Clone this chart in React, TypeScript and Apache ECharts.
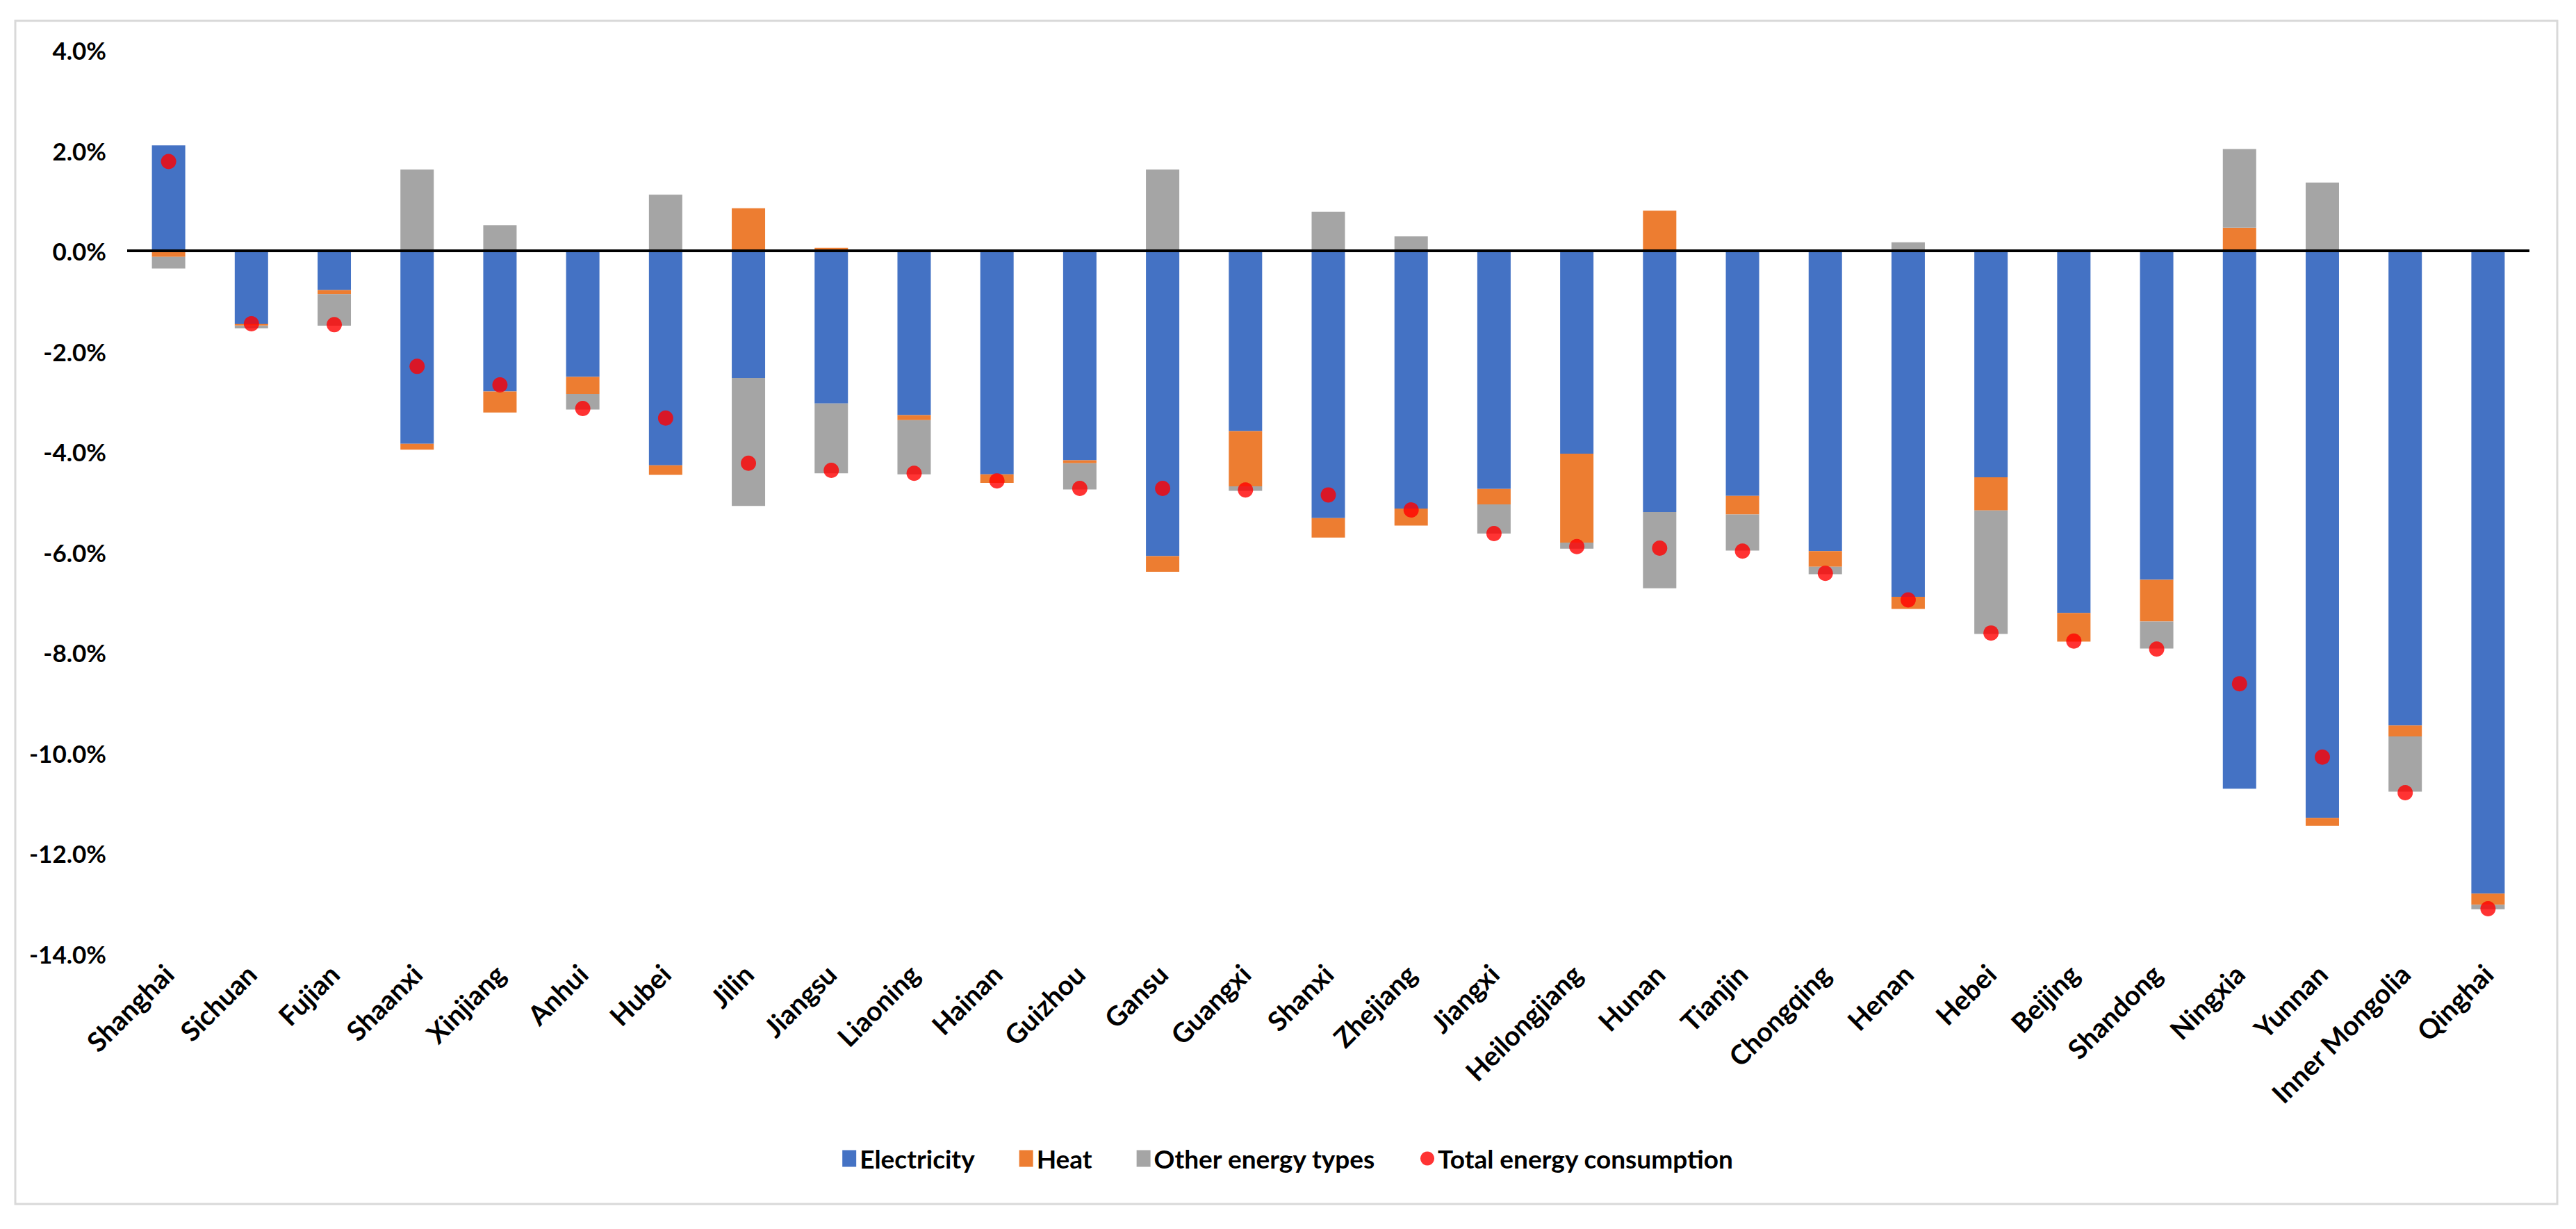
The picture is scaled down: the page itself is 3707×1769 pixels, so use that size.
import React, { useEffect, useRef } from "react";
import * as echarts from "echarts";

const provinces = [
  "Shanghai", "Sichuan", "Fujian", "Shaanxi", "Xinjiang", "Anhui", "Hubei", "Jilin",
  "Jiangsu", "Liaoning", "Hainan", "Guizhou", "Gansu", "Guangxi", "Shanxi", "Zhejiang",
  "Jiangxi", "Heilongjiang", "Hunan", "Tianjin", "Chongqing", "Henan", "Hebei", "Beijing",
  "Shandong", "Ningxia", "Yunnan", "Inner Mongolia", "Qinghai",
];

const electricity = [
  2.10, -1.45, -0.78, -3.84, -2.80, -2.51, -4.27, -2.53,
  -3.04, -3.27, -4.45, -4.17, -6.08, -3.59, -5.32, -5.13,
  -4.74, -4.04, -5.20, -4.88, -5.98, -6.89, -4.51, -7.21,
  -6.55, -10.71, -11.29, -9.45, -12.80,
];

const heat = [
  -0.12, -0.04, -0.08, -0.12, -0.42, -0.34, -0.19, 0.85,
  0.06, -0.10, -0.17, -0.06, -0.31, -1.10, -0.39, -0.34,
  -0.31, -1.77, 0.80, -0.37, -0.31, -0.24, -0.66, -0.57,
  -0.83, 0.46, -0.16, -0.22, -0.22,
];

const otherEnergy = [
  -0.23, -0.05, -0.63, 1.62, 0.51, -0.31, 1.12, -2.55,
  -1.39, -1.08, 0.0, -0.52, 1.62, -0.09, 0.78, 0.29,
  -0.58, -0.12, -1.52, -0.72, -0.15, 0.17, -2.46, 0.0,
  -0.54, 1.57, 1.36, -1.10, -0.09,
];

const totalEnergy = [
  1.78, -1.45, -1.47, -2.30, -2.67, -3.14, -3.33, -4.23,
  -4.37, -4.43, -4.58, -4.73, -4.73, -4.76, -4.86, -5.16,
  -5.63, -5.89, -5.92, -5.98, -6.42, -6.95, -7.61, -7.77,
  -7.93, -8.62, -10.08, -10.79, -13.10,
];

const FONT = "Lato, 'Open Sans', sans-serif";

export default function App() {
  const ref = useRef<HTMLDivElement>(null);

  useEffect(() => {
    const chart = echarts.init(ref.current as HTMLDivElement, null, { renderer: "svg" });
    chart.setOption({
      animation: false,
      backgroundColor: "#ffffff",
      textStyle: { fontFamily: FONT },
      graphic: [
        {
          type: "rect",
          shape: { x: 22, y: 30, width: 3658, height: 1703 },
          style: { fill: "none", stroke: "#d9d9d9", lineWidth: 3 },
          silent: true,
          z: -10,
        },
      ],
      grid: { left: 183, right: 67, top: 72, bottom: 396, containLabel: false },
      legend: {
        bottom: 1769 - 1672 - 19,
        left: "center",
        itemWidth: 20,
        itemHeight: 24,
        itemGap: 64,
        textStyle: { fontFamily: FONT, fontSize: 37, fontWeight: "bold", color: "#000" },
        data: [
          { name: "Electricity", icon: "rect" },
          { name: "Heat", icon: "rect" },
          { name: "Other energy types", icon: "rect" },
          { name: "Total energy consumption", icon: "circle" },
        ],
      },
      xAxis: {
        type: "category",
        data: provinces,
        axisLine: { show: false },
        axisTick: { show: false },
        axisLabel: {
          interval: 0,
          rotate: 45,
          margin: 22,
          fontFamily: FONT,
          fontSize: 39,
          fontWeight: "bold",
          color: "#000",
        },
      },
      yAxis: {
        type: "value",
        min: -14,
        max: 4,
        interval: 2,
        axisLine: { show: false },
        axisTick: { show: false },
        splitLine: { show: false },
        axisLabel: {
          margin: 30,
          fontFamily: FONT,
          fontSize: 35,
          fontWeight: "bold",
          color: "#000",
          formatter: (v: number) => v.toFixed(1) + "%",
        },
      },
      series: [
        {
          name: "Electricity",
          type: "bar",
          stack: "energy",
          barWidth: 48,
          itemStyle: { color: "#4472C4" },
          data: electricity,
          markLine: {
            silent: true,
            symbol: ["none", "none"],
            label: { show: false },
            lineStyle: { color: "#000000", width: 4, type: "solid" },
            data: [{ yAxis: 0 }],
            z: 10,
          },
        },
        {
          name: "Heat",
          type: "bar",
          stack: "energy",
          barWidth: 48,
          itemStyle: { color: "#ED7D31" },
          data: heat,
        },
        {
          name: "Other energy types",
          type: "bar",
          stack: "energy",
          barWidth: 48,
          itemStyle: { color: "#A5A5A5" },
          data: otherEnergy,
        },
        {
          name: "Total energy consumption",
          type: "scatter",
          symbol: "circle",
          symbolSize: 22,
          itemStyle: { color: "#FF0000" },
          data: totalEnergy,
          z: 20,
        },
      ],
    });
    return () => chart.dispose();
  }, []);

  return (
    <div
      ref={ref}
      style={{ position: "fixed", left: 0, top: 0, width: 3707, height: 1769, background: "#ffffff" }}
    />
  );
}
